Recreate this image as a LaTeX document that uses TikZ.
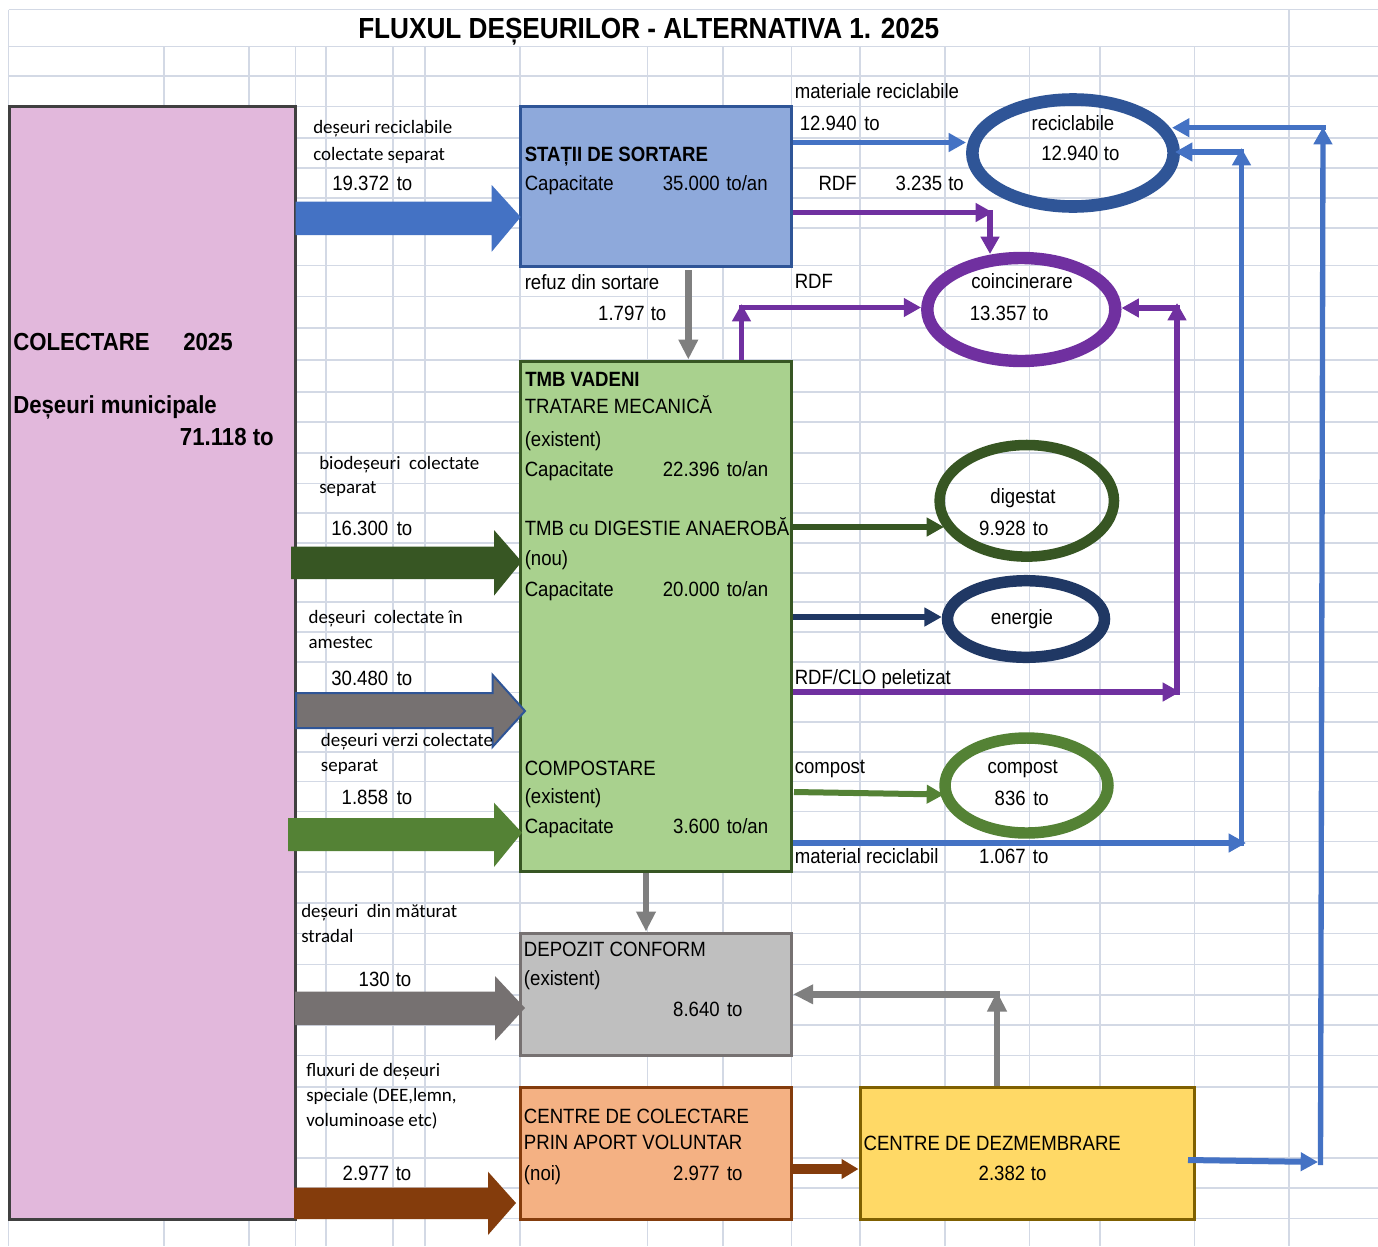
\documentclass[tikz,border=0pt]{standalone}
\usepackage{fontspec}
\setmainfont{Liberation Sans}[FakeStretch=0.9]
\newfontfamily\labfont{Carlito}
\usetikzlibrary{arrows.meta,shapes.geometric,fit}
\definecolor{gridc}{HTML}{D3D9E5}
\definecolor{pinkf}{HTML}{E2B8DC}
\definecolor{pinkb}{HTML}{404040}
\definecolor{bluef}{HTML}{8EA9DB}
\definecolor{blueb}{HTML}{2F5597}
\definecolor{bluec}{HTML}{4472C4}
\definecolor{greenf}{HTML}{A9D18E}
\definecolor{dgreen}{HTML}{375623}
\definecolor{lgreen}{HTML}{548235}
\definecolor{grayf}{HTML}{BFBFBF}
\definecolor{grayb}{HTML}{767171}
\definecolor{grayc}{HTML}{7F7F7F}
\definecolor{oranf}{HTML}{F4B183}
\definecolor{brownc}{HTML}{843C0C}
\definecolor{yelf}{HTML}{FFD966}
\definecolor{yelb}{HTML}{7F6000}
\definecolor{purc}{HTML}{7030A0}
\definecolor{navy}{HTML}{203864}
\newcommand{\barrow}[9]{\path[#1] (#2,#3) -- (#5,#3) -- (#5,#6) -- (#8,#9) -- (#5,#7) -- (#5,#4) -- (#2,#4) -- cycle;}
\tikzset{
 t/.style={inner sep=0, anchor=base west, font=\fontsize{15.5}{18}\selectfont},
 tr/.style={t, anchor=base east},
 tc/.style={t, anchor=base},
 tb/.style={t, font=\fontsize{15.5}{18}\selectfont\bfseries},
 lab/.style={inner sep=0, anchor=base west, font=\labfont\fontsize{14.2}{17}\selectfont},
 big/.style={inner sep=0, anchor=base west, font=\fontsize{18.5}{22}\selectfont\bfseries},
 boxn/.style={inner sep=0, line width=2.25pt},
 ell/.style={ellipse, inner sep=0},
 conn/.style={line width=4pt, -{Triangle[length=13pt,width=13.5pt]}},
 gconn/.style={line width=5pt, draw=grayc, -{Triangle[length=15pt,width=14pt]}},
 gridl/.style={draw=gridc, line width=1pt},
}
\begin{document}
\begin{tikzpicture}[x=0.75pt,y=-0.75pt]
\useasboundingbox (0,0) rectangle (1378,1246);
\fill[white] (0,0) rectangle (1378,1246);
% grid
\foreach \y in {9.5,46.5,76,106.5,138,168,198,228,265.5,296.5,328,360,392,422,453,483.5,513,543,573,602,632,662,692.5,722,752,781.5,811.5,841.5,872,903,933.5,964.5,995,1025,1055.5,1087,1158,1188,1218.5}
  \draw[gridl] (8.5,\y) -- (1378,\y);
\foreach \x in {164,249,295.5,326,393,425,520,647.5,723,791.5,860,945,1029.5,1100,1194.5}
  \draw[gridl] (\x,46.5) -- (\x,1246);
\foreach \x in {8.5,1289}
  \draw[gridl] (\x,9.5) -- (\x,1246);

% title
\node[inner sep=0, anchor=base, font=\fontsize{21.8}{26}\selectfont\bfseries] (title) at (648.7,38.3) {FLUXUL DEȘEURILOR - ALTERNATIVA 1. 2025};

% boxes
\node[boxn, fit={(9,106.5)(295.5,1219)}, fill=pinkf, draw=pinkb] (col) {};
\node[boxn, fit={(520,106.5)(791.7,266.5)}, fill=bluef, draw=blueb] (stat) {};
\node[boxn, fit={(520,361)(791.7,871.7)}, fill=greenf, draw=dgreen] (tmb) {};
\node[boxn, fit={(520,933)(791.7,1055.7)}, fill=grayf, draw=grayb] (dep) {};
\node[boxn, fit={(520,1087.3)(791.5,1219.3)}, fill=oranf, draw=brownc] (ora) {};
\node[boxn, fit={(860,1087.5)(1194.5,1219)}, fill=yelf, draw=yelb] (yel) {};

% ellipses
\node[ell, draw=blueb, line width=9.45pt, minimum width=151pt, minimum height=80.25pt] (rec) at (1073,153) {};
\node[ell, draw=purc, line width=9.3pt, minimum width=141pt, minimum height=77.25pt] (coi) at (1021.3,309.5) {};
\node[ell, draw=dgreen, line width=7.9pt, minimum width=130.8pt, minimum height=83.7pt] (dig) at (1026.8,500.8) {};
\node[ell, draw=navy, line width=8.6pt, minimum width=117.75pt, minimum height=57.45pt] (ene) at (1026,619) {};
\node[ell, draw=lgreen, line width=8.6pt, minimum width=122.25pt, minimum height=71.25pt] (comp) at (1026.5,785.5) {};

% block arrows
\barrow{fill=bluec}{295.5}{201.7}{235}{491.7}{185}{251.7}{520.7}{217}
\barrow{fill=dgreen}{291}{546.7}{579}{494}{530}{595.7}{521.7}{561.7}
\barrow{fill=grayb, draw=blueb, line width=1.5pt}{296}{693}{728}{492.7}{675}{746.7}{525}{711}
\barrow{fill=lgreen}{288}{818}{851}{494}{802.7}{867}{522}{832.7}
\barrow{fill=grayb}{295}{991.7}{1025}{495}{976}{1040.7}{525}{1008}
\barrow{fill=brownc}{294}{1187.7}{1219}{488}{1171.7}{1235}{516}{1203}

% connectors
\draw[conn, draw=bluec] (stat.east |- 0,142.5) -- (rec.west |- 0,142.5);
\coordinate (k1) at (993,212.5);
\coordinate (k1b) at (990,210);
\coordinate (k1c) at (990,254);
\draw[conn, draw=purc] (stat.east |- k1) -- (k1);
\draw[conn, draw=purc] (k1b) -- (k1c);
\coordinate (k2) at (741.5,304);
\coordinate (k2b) at (739,307.5);
\draw[conn, draw=purc] (tmb.north -| k2) -- (k2);
\draw[conn, draw=purc] (k2b) -- (coi.west |- k2b);
\coordinate (k3) at (1180,692);
\coordinate (k3a) at (1177,694.5);
\coordinate (k3b) at (1177,303);
\coordinate (k3c) at (1179.5,308);
\draw[conn, draw=purc] (tmb.east |- k3) -- (k3);
\draw[conn, draw=purc] (k3a) -- (k3b);
\draw[conn, draw=purc] (k3c) -- (coi.east |- k3c);
\coordinate (k4) at (944,527);
\draw[conn, draw=dgreen, line width=4.5pt] (tmb.east |- k4) -- (k4);
\draw[conn, draw=navy, line width=4.5pt] (tmb.east |- 0,617) -- (ene.west |- 0,617);
\coordinate (k5a) at (794,792);
\coordinate (k5b) at (944,794.5);
\draw[conn, draw=lgreen, line width=4.5pt] (k5a) -- (k5b);
\coordinate (k6) at (1246,843);
\coordinate (k6a) at (1241.5,846);
\coordinate (k6b) at (1241.5,148);
\coordinate (k6c) at (1244,152);
\coordinate (k6d) at (1175,152);
\draw[conn, draw=bluec, line width=4.5pt] (tmb.east |- k6) -- (k6);
\draw[conn, draw=bluec] (k6a) -- (k6b);
\draw[conn, draw=bluec] (k6c) -- (k6d);
\coordinate (k7s) at (1188,1160);
\coordinate (k7) at (1318,1162);
\coordinate (k7a) at (1320.5,1165);
\coordinate (k7b) at (1323,127);
\coordinate (k7c) at (1325.5,127.7);
\coordinate (k7d) at (1172,127.7);
\draw[conn, draw=bluec, line width=4.5pt] (k7s) -- (k7);
\draw[conn, draw=bluec] (k7a) -- (k7b);
\draw[conn, draw=bluec] (k7c) -- (k7d);
\draw[gconn] (688.3,270) -- (688.3,0 |- tmb.north);
\draw[gconn] (646,0 |- tmb.south) -- (646,0 |- dep.north);
\coordinate (k8) at (997,991.5);
\coordinate (k8b) at (999.5,994.3);
\draw[gconn] (997,0 |- yel.north) -- (k8);
\draw[gconn] (k8b) -- (dep.east |- k8b);
\draw[draw=brownc, line width=7.5pt, -{Triangle[length=12.75pt,width=14.25pt]}] (ora.east |- 0,1169) -- (yel.west |- 0,1169);

% pink box texts
\node[big] (c1) at (13,350.7) {COLECTARE};
\node[big] (c2) at (183,350.7) {2025};
\node[big] (c3) at (13,413) {Deșeuri municipale};
\node[big, anchor=base east] (c4) at (274,445) {71.118 to};

% left labels
\node[lab] (l1) at (313,133.3) {deșeuri reciclabile};
\node[lab] (l2) at (313,160) {colectate separat};
\node[tr] (n1) at (389.5,190.7) {19.372};
\node[t] (n1t) at (396.5,190.7) {to};
\node[lab] (l3) at (319,469) {biodeșeuri~~colectate};
\node[lab] (l4) at (319,493.3) {separat};
\node[tr] (n2) at (388.5,535) {16.300};
\node[t] (n2t) at (396.5,535) {to};
\node[lab] (l5) at (308.3,623.3) {deșeuri~~colectate în};
\node[lab] (l6) at (308.3,648.3) {amestec};
\node[tr] (n3) at (388.5,685) {30.480};
\node[t] (n3t) at (396.5,685) {to};
\node[lab] (l7) at (320.7,746.7) {deșeuri verzi colectate};
\node[lab] (l8) at (320.7,771.7) {separat};
\node[tr] (n4) at (388.5,804) {1.858};
\node[t] (n4t) at (396.5,804) {to};
\node[lab] (l9) at (301,917.7) {deșeuri~~din măturat};
\node[lab] (l10) at (301,942.7) {stradal};
\node[tr] (n5) at (390,986) {130};
\node[t] (n5t) at (395.5,986) {to};
\node[lab] (l11) at (306,1076.7) {fluxuri de deșeuri};
\node[lab] (l12) at (306,1101.7) {speciale (DEE,lemn,};
\node[lab] (l13) at (306,1126.7) {voluminoase etc)};
\node[tr] (n6) at (389.5,1180) {2.977};
\node[t] (n6t) at (395.5,1180) {to};

% sorting box texts
\node[tb] (s1) at (524.5,161.7) {STAȚII DE SORTARE};
\node[t] (s2) at (524.5,190.7) {Capacitate};
\node[tr] (s3) at (720,190.7) {35.000};
\node[t] (s4) at (726,190.7) {to/an};
\node[t] (s5) at (524.5,289) {refuz din sortare};
\node[tr] (s6) at (645,320) {1.797};
\node[t] (s7) at (650.5,320) {to};

% right of sorting
\node[t] (r1) at (794.5,98.3) {materiale reciclabile};
\node[tr] (r2) at (857,130.7) {12.940};
\node[t] (r3) at (864,130.7) {to};
\node[tr] (r4) at (857,190.7) {RDF};
\node[tr] (r5) at (942.5,190.7) {3.235};
\node[t] (r6) at (948,190.7) {to};
\node[tc] (e1) at (1073,130.7) {reciclabile};
\node[tr] (e2) at (1098.5,160.7) {12.940};
\node[t] (e3) at (1103.7,160.7) {to};
\node[t] (r7) at (794.5,288.3) {RDF};
\node[tc] (e4) at (1022,288.3) {coincinerare};
\node[tr] (e5) at (1027,320) {13.357};
\node[t] (e6) at (1032.7,320) {to};

% TMB texts
\node[tb] (m1) at (525,386) {TMB VADENI};
\node[t] (m2) at (524.5,413.3) {TRATARE MECANICĂ};
\node[t] (m3) at (524.5,446) {(existent)};
\node[t] (m4) at (524.5,476.7) {Capacitate};
\node[tr] (m5) at (720,476.7) {22.396};
\node[t] (m6) at (726.5,476.7) {to/an};
\node[t] (m7) at (524.5,535) {TMB cu DIGESTIE ANAEROBĂ};
\node[t] (m8) at (524.5,565) {(nou)};
\node[t] (m9) at (524.5,596) {Capacitate};
\node[tr] (m10) at (720,596) {20.000};
\node[t] (m11) at (726.5,596) {to/an};
\node[t] (m12) at (524.5,775) {COMPOSTARE};
\node[t] (m13) at (524.5,803.3) {(existent)};
\node[t] (m14) at (524.5,833.3) {Capacitate};
\node[tr] (m15) at (720,833.3) {3.600};
\node[t] (m16) at (726.5,833.3) {to/an};

% right of TMB
\node[tc] (e7) at (1023,503.5) {digestat};
\node[tr] (e8) at (1026,535) {9.928};
\node[t] (e9) at (1032.7,535) {to};
\node[tc] (e10) at (1022,624.3) {energie};
\node[t] (r8) at (794.5,684.3) {RDF/CLO peletizat};
\node[t] (r9) at (794.5,773.3) {compost};
\node[tc] (e11) at (1022.7,773.3) {compost};
\node[tr] (e12) at (1026,805) {836};
\node[t] (e13) at (1033,805) {to};
\node[t] (r10) at (794.5,863.3) {material reciclabil};
\node[tr] (r11) at (1026,863.3) {1.067};
\node[t] (r12) at (1032.7,863.3) {to};

% depozit
\node[t] (d1) at (523.7,956.7) {DEPOZIT CONFORM};
\node[t] (d2) at (523.7,985) {(existent)};
\node[tr] (d3) at (720,1016.7) {8.640};
\node[t] (d4) at (726.8,1016.7) {to};

% bottom boxes
\node[t] (o1) at (523.7,1123.3) {CENTRE DE COLECTARE};
\node[t] (o2) at (523.7,1149.3) {PRIN APORT VOLUNTAR};
\node[t] (o3) at (523.7,1180) {(noi)};
\node[tr] (o4) at (720,1180) {2.977};
\node[t] (o5) at (726.8,1180) {to};
\node[t] (y1) at (863.3,1150) {CENTRE DE DEZMEMBRARE};
\node[tr] (y2) at (1025.5,1180) {2.382};
\node[t] (y3) at (1030.7,1180) {to};
\end{tikzpicture}
\end{document}
